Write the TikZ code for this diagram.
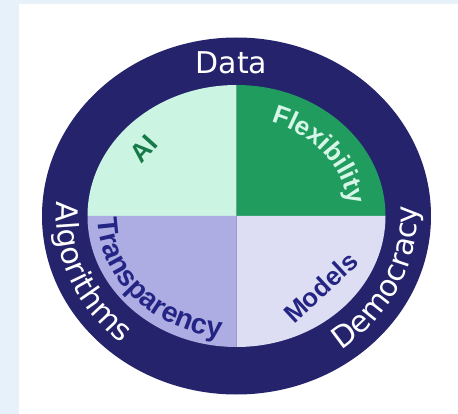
\documentclass[tikz,border=0pt]{standalone}
\usepackage{fontspec}
\setmainfont{Liberation Sans}
\newfontfamily\outerfont{DejaVu Sans}
\usetikzlibrary{decorations.text,calc}
\definecolor{bgblue}{RGB}{230,241,249}
\definecolor{navy}{RGB}{36,35,108}
\definecolor{mint}{RGB}{203,245,226}
\definecolor{leafgreen}{RGB}{33,156,95}
\definecolor{lav}{RGB}{173,173,227}
\definecolor{lightlav}{RGB}{221,221,243}
\definecolor{aigreen}{RGB}{22,122,72}
\definecolor{flexmint}{RGB}{214,246,232}
\definecolor{txtnavy}{RGB}{36,36,132}
\tikzset{
  outertext/.style={text=white, font=\outerfont\fontsize{30}{30}\selectfont},
  innertext/.style={font=\bfseries\fontsize{26}{26}\selectfont},
}
\begin{document}
\begin{tikzpicture}[x=1pt,y=1pt]
\useasboundingbox (0,0) rectangle (458,-414);
\fill[bgblue] (0,0) rectangle (458,-414);
\fill[white] (19,-4) rectangle (458,-414);
\coordinate (c) at (236.5,-216);
% ring
\fill[navy] (c) ellipse [x radius=194.5, y radius=178.5];
% quadrants
\fill[mint] (c) -- ++(0,131) arc[start angle=90, end angle=180, x radius=149, y radius=131] -- cycle;
\fill[leafgreen] (c) -- ++(149,0) arc[start angle=0, end angle=90, x radius=149, y radius=131] -- cycle;
\fill[lav] (c) -- ++(-149,0) arc[start angle=180, end angle=270, x radius=149, y radius=131] -- cycle;
\fill[lightlav] (c) -- ++(0,-131) arc[start angle=270, end angle=360, x radius=149, y radius=131] -- cycle;
% outer texts
\node[outertext, anchor=base] (data) at (231.5,-73.3) {Data};
\path[decorate, decoration={text along path, text color=white,
  text={|\outerfont\fontsize{30}{30}\selectfont|Algorithms}}]
  ($(c)+(175:180.5 and 164.5)$) arc[start angle=175, end angle=268, x radius=180.5, y radius=164.5];
\path[decorate, decoration={text along path, text color=white,
  text={|\outerfont\fontsize{30}{30}\selectfont|Democracy}}]
  ($(c)+(305.5:180.5 and 164.5)$) arc[start angle=305.5, end angle=400, x radius=180.5, y radius=164.5];
% inner texts
\node[innertext, text=aigreen, rotate=48] (ai) at (143.5,-148.5) {AI};
\node[innertext, text=txtnavy, rotate=43] (models) at (320.5,-287.5) {Models};
\path[decorate, decoration={text along path, text color=flexmint,
  text={|\bfseries\fontsize{26}{26}\selectfont|Flexibility}}]
  ($(c)+(72:112.7 and 99)$) arc[start angle=72, end angle=-40, x radius=112.7, y radius=99];
\path[decorate, decoration={text along path, text color=txtnavy,
  text={|\bfseries\fontsize{28.5}{28.5}\selectfont|Transparency}}]
  ($(c)+(181:138.6 and 122)$) arc[start angle=181, end angle=290, x radius=138.6, y radius=122];
\end{tikzpicture}
\end{document}
